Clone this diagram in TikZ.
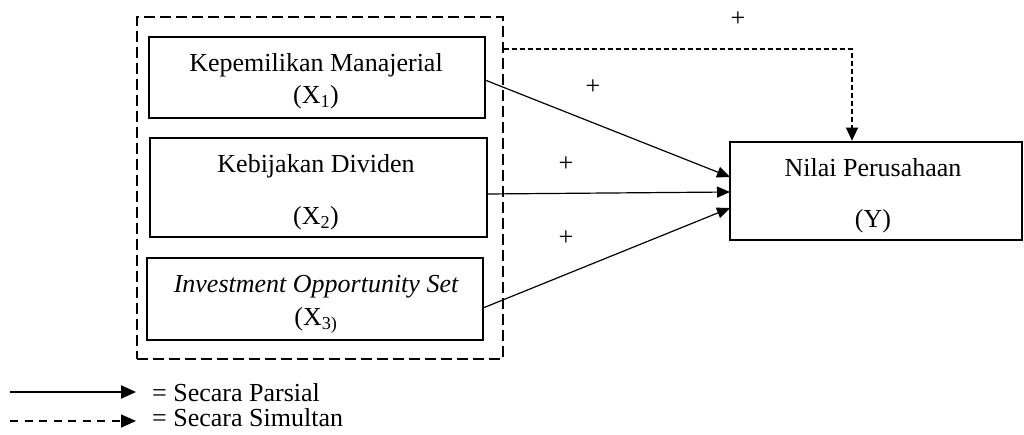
\documentclass[tikz,border=0pt]{standalone}
\usepackage{fontspec}
\setmainfont{Liberation Serif}
\usetikzlibrary{arrows.meta}
\begin{document}
\begin{tikzpicture}[x=1pt,y=-1pt,
  every node/.style={font=\fontsize{26}{30}\selectfont},
  varbox/.style={draw,line width=2.7pt,inner sep=0pt},
  groupbox/.style={draw,line width=2.6pt,dash pattern=on 11pt off 5pt},
  txt/.style={anchor=base,inner sep=0pt},
  plus/.style={inner sep=0pt},
  parsial/.style={line width=1.2pt,-{Triangle[length=13pt,width=11pt]}},
  simultan/.style={line width=1.2pt,dash pattern=on 5pt off 3pt,-{Triangle[length=13pt,width=12pt]}},
  legsolid/.style={line width=2.2pt,-{Triangle[length=15pt,width=13pt]}},
  legdash/.style={line width=1.4pt,dash pattern=on 8pt off 6.5pt,-{Triangle[length=15pt,width=13pt]}}]
\useasboundingbox (0,0) rectangle (1024,435);
% group box
\node[groupbox,minimum width=366pt,minimum height=342pt] (grp) at (320,188) {};
% variable boxes
\node[varbox,minimum width=336pt,minimum height=81pt] (x1) at (317,77.5) {};
\node[varbox,minimum width=337pt,minimum height=99pt] (x2) at (318.5,187.5) {};
\node[varbox,minimum width=336pt,minimum height=82pt] (x3) at (315,299) {};
\node[varbox,minimum width=292pt,minimum height=98pt] (y) at (876,191) {};
% texts
\node[txt] (x1a) at (316,71.5) {Kepemilikan Manajerial};
\node[txt] (x1b) at (316,104) {(X\textsubscript{1})};
\node[txt] (x2a) at (316,173) {Kebijakan Dividen};
\node[txt] (x2b) at (316,225) {(X\textsubscript{2})};
\node[txt] (x3a) at (316,292) {\itshape Investment Opportunity Set};
\node[txt] (x3b) at (316,325) {(X\textsubscript{3)}};
\node[txt] (ya) at (873,177) {Nilai Perusahaan};
\node[txt] (yb) at (873,228) {(Y)};
% plus signs
\node[plus] (p0) at (738,19) {+};
\node[plus] (p1) at (593,87) {+};
\node[plus] (p2) at (566,164) {+};
\node[plus] (p3) at (566,238) {+};
% partial arrows
\coordinate (s1) at (485,80);
\coordinate (e1) at (730,177);
\coordinate (s2) at (487,194);
\coordinate (e2) at (730,192);
\coordinate (s3) at (483,308);
\coordinate (e3) at (730,208);
\draw[parsial] (s1) -- (e1);
\draw[parsial] (s2) -- (e2);
\draw[parsial] (s3) -- (e3);
% simultaneous arrow
\coordinate (c) at (852,49);
\draw[simultan] (grp.east |- c) -- (c) -- (y.north -| c);
% legend
\coordinate (l1s) at (10,392);
\coordinate (l1e) at (136,392);
\coordinate (l2s) at (10,421);
\coordinate (l2e) at (136,421);
\draw[legsolid] (l1s) -- (l1e);
\draw[legdash] (l2s) -- (l2e);
\node[txt,anchor=base west] (lg1) at (152,401) {= Secara Parsial};
\node[txt,anchor=base west] (lg2) at (152,426) {= Secara Simultan};
\end{tikzpicture}
\end{document}
